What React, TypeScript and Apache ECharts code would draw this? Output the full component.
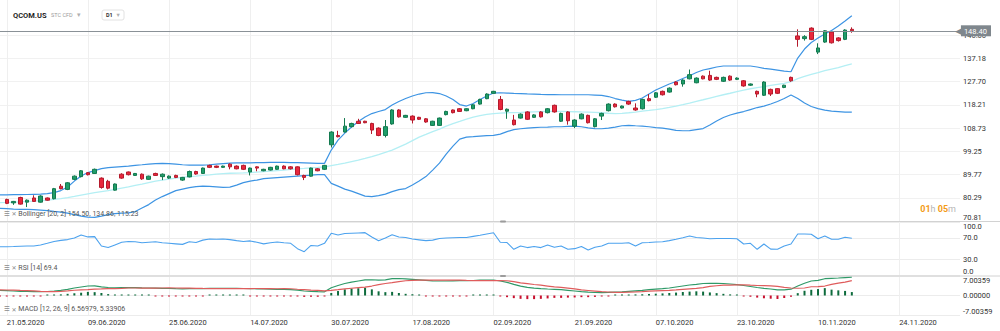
import React, { useEffect, useRef } from 'react';
import * as echarts from 'echarts';

// Trading days (index 0 = 20.05.2020, last bar = 17.11.2020), then empty future slots
const DATES = (
  '20.05 21.05 22.05 26.05 27.05 28.05 29.05 ' +
  '01.06 02.06 03.06 04.06 05.06 08.06 09.06 10.06 11.06 12.06 15.06 16.06 17.06 18.06 19.06 22.06 23.06 24.06 25.06 26.06 29.06 30.06 ' +
  '01.07 02.07 06.07 07.07 08.07 09.07 10.07 13.07 14.07 15.07 16.07 17.07 20.07 21.07 22.07 23.07 24.07 27.07 28.07 29.07 30.07 31.07 ' +
  '03.08 04.08 05.08 06.08 07.08 10.08 11.08 12.08 13.08 14.08 17.08 18.08 19.08 20.08 21.08 24.08 25.08 26.08 27.08 28.08 31.08 ' +
  '01.09 02.09 03.09 04.09 08.09 09.09 10.09 11.09 14.09 15.09 16.09 17.09 18.09 21.09 22.09 23.09 24.09 25.09 28.09 29.09 30.09 ' +
  '01.10 02.10 05.10 06.10 07.10 08.10 09.10 12.10 13.10 14.10 15.10 16.10 19.10 20.10 21.10 22.10 23.10 26.10 27.10 28.10 29.10 30.10 ' +
  '02.11 03.11 04.11 05.11 06.11 09.11 10.11 11.11 12.11 13.11 16.11 17.11'
).split(' ');
const FUTURE_SLOTS = ['f1', 'f2', 'f3', 'f4', 'f5', 'f6', 'f7', 'f8', 'f9', 'f10', 'f11', 'f12', 'f13', 'f14', 'f15', 'f16'];
const CATEGORIES = DATES.concat(FUTURE_SLOTS);

const X_TICK_LABELS = ['21.05.2020', '09.06.2020', '25.06.2020', '14.07.2020', '30.07.2020', '17.08.2020',
  '02.09.2020', '21.09.2020', '07.10.2020', '23.10.2020', '10.11.2020', '24.11.2020'];
const PRICE_TICKS = [70.81, 80.29, 89.77, 99.25, 108.73, 118.21, 127.70, 137.18, 146.66];
const RSI_TICKS = [0, 30, 70, 100];
const MACD_TICKS = [-7.00359, 0, 7.00359];

// [open, close, low, high]
const CANDLES: any[] = ['-',
  [79.6,78.0,77.7,79.9],[78.2,78.8,77.4,79.0],[80.4,77.7,77.5,80.7],[78.5,79.3,76.5,79.6],[80.2,78.8,78.6,81.3],[78.5,81.0,78.3,81.3],[80.2,79.3,79.1,80.4],[79.9,84.0,79.6,84.3],[85.0,84.0,83.7,85.9],[83.7,86.4,83.4,86.7],
  [87.8,89.1,87.5,89.4],[88.9,91.3,88.6,91.6],[90.5,89.7,89.4,90.8],[90.2,91.9,90.0,92.2],[88.3,84.5,84.0,88.6],[87.0,84.2,83.7,87.6],[83.4,85.9,83.2,86.1],[89.9,88.3,88.0,90.3],[90.8,89.7,89.4,91.0],[89.4,90.2,89.2,90.4],
  [89.9,88.0,87.6,90.2],[87.8,89.1,87.6,89.3],[90.2,89.4,89.2,90.5],[88.9,89.9,87.5,90.2],[88.3,89.1,88.0,89.4],[89.4,88.6,88.3,89.7],[87.5,88.6,87.2,88.8],[88.8,91.0,88.6,91.4],[91.0,90.0,89.7,91.3],[90.2,92.4,90.0,92.6],
  [93.5,92.7,92.4,93.8],[93.2,92.7,92.4,93.4],[92.7,93.2,92.5,93.4],[94.0,92.9,91.9,94.3],[93.2,92.1,91.9,93.5],[93.5,91.9,91.6,93.8],[90.8,92.4,89.4,92.6],[92.9,92.4,91.1,93.1],[91.3,91.9,91.1,92.1],[91.6,92.7,91.4,92.9],
  [91.9,93.2,91.7,93.4],[93.2,92.1,91.9,93.5],[92.9,92.1,91.8,93.2],[92.9,89.7,89.4,93.1],[89.4,88.6,87.5,89.7],[89.1,92.4,88.9,92.6],[92.1,91.3,91.1,92.4],[91.9,93.5,91.6,93.7],[101.9,107.1,100.8,107.4],[105.7,105.2,104.9,107.6],
  [107.1,109.5,106.9,112.8],[109.3,110.6,109.0,110.9],[111.5,110.6,110.4,112.5],[111.5,110.9,110.7,111.7],[110.6,107.9,106.3,110.9],[108.7,105.7,105.4,109.0],[105.7,109.3,104.9,112.0],[110.4,116.1,110.1,116.4],[116.1,113.3,113.0,116.4],[113.1,113.9,112.9,114.1],
  [113.6,112.0,110.6,113.9],[113.1,112.3,112.0,113.3],[112.5,111.2,110.9,112.8],[109.8,111.5,109.6,111.7],[109.8,112.8,109.6,113.0],[114.2,115.5,113.9,115.8],[116.1,115.0,114.7,116.3],[116.6,115.5,115.3,116.9],[115.8,116.6,115.6,116.8],[116.6,118.2,116.4,118.5],
  [118.5,120.4,118.3,120.7],[120.7,122.6,120.5,122.9],[122.9,123.7,122.7,123.9],[120.4,116.3,116.0,121.8],[115.6,116.4,112.5,116.7],[112.0,110.1,109.8,114.1],[112.8,114.4,112.6,114.7],[115.3,112.3,112.0,115.6],[113.1,114.1,112.9,114.4],[115.3,113.3,113.0,115.6],
  [115.0,116.6,114.7,116.9],[118.0,115.3,115.0,118.3],[111.5,114.7,111.2,115.0],[115.3,111.7,110.1,115.6],[109.5,112.0,108.7,112.3],[112.5,114.4,112.3,114.7],[113.9,110.9,110.6,114.2],[109.3,112.5,109.0,112.8],[113.6,114.7,112.0,115.0],[115.8,118.5,115.5,118.8],
  [118.5,117.4,117.1,118.8],[116.9,117.7,116.7,117.9],[119.6,118.5,118.2,119.9],[116.9,116.1,115.8,118.8],[116.6,120.4,116.3,120.7],[120.7,119.9,119.6,122.6],[121.3,123.1,121.0,123.4],[123.7,122.3,122.0,124.0],[123.4,125.0,123.2,125.3],[127.5,126.4,126.1,127.8],
  [126.7,128.3,125.6,128.6],[128.8,130.5,128.6,132.6],[127.2,129.1,127.0,129.4],[129.9,128.8,128.6,130.2],[130.2,128.3,128.0,132.1],[129.4,128.6,128.3,129.7],[127.8,129.4,127.5,129.7],[129.9,128.3,128.0,130.2],[128.6,129.1,128.3,129.4],[128.0,125.9,125.6,128.3],
  [126.2,126.7,125.9,126.9],[123.7,122.6,121.3,124.0],[122.1,127.5,121.8,127.8],[124.5,122.6,121.8,124.8],[124.8,122.9,122.6,125.0],[125.3,126.2,125.0,126.4],[129.4,128.0,127.6,129.7],[146.3,144.9,141.9,149.0],[145.2,146.0,144.4,146.6],[149.5,144.9,144.6,149.8],
  [139.7,141.4,138.9,143.3],[143.8,148.4,143.5,148.7],[147.9,143.5,143.2,148.2],[145.5,144.4,144.0,145.8],[144.9,148.7,144.6,149.0],[149.0,148.4,147.6,149.8]
];

const BB_UPPER = [81.46,
  81.50,81.54,81.58,81.62,81.71,81.79,81.95,82.40,83.22,84.65,
  87.09,89.13,90.56,91.38,92.20,92.60,92.81,93.01,93.21,93.50,
  93.75,94.03,94.24,94.32,94.24,94.03,93.75,93.63,93.63,93.63,
  93.75,94.03,94.24,94.44,94.56,94.56,94.56,94.64,94.64,94.72,
  94.72,94.72,94.64,94.64,94.56,94.44,94.32,94.32,99.75,103.83,
  106.68,109.13,111.38,113.21,114.64,115.46,116.27,118.11,119.54,120.76,
  121.78,122.60,123.13,123.21,122.80,121.78,120.35,118.31,117.70,118.72,
  120.35,121.78,123.01,123.13,123.01,122.88,122.80,122.68,122.60,122.48,
  122.39,122.39,122.31,122.31,122.31,122.31,122.31,122.19,122.07,121.58,
  120.76,120.15,119.62,120.03,120.97,122.60,124.23,125.46,126.68,127.70,
  128.92,130.07,131.37,132.39,133.00,133.62,134.03,134.03,134.03,134.03,
  134.03,133.62,133.09,132.80,132.39,131.98,131.70,137.29,140.96,143.62,
  145.45,147.09,148.51,150.35,152.39,154.50];
const BB_MIDDLE = [78.32,
  78.40,78.52,78.65,78.81,78.93,79.14,79.34,79.63,79.95,80.36,
  80.85,81.38,81.91,82.40,82.81,83.22,83.71,84.24,84.77,85.34,
  85.87,86.48,87.09,87.50,87.91,88.32,88.60,88.93,89.13,89.42,
  89.66,89.95,90.15,90.28,90.36,90.44,90.56,90.77,90.97,91.17,
  91.38,91.58,91.87,92.11,92.28,92.48,92.68,92.89,93.42,93.91,
  94.44,95.05,95.66,96.36,97.09,97.91,98.81,99.75,100.97,102.19,
  103.62,105.05,106.15,107.29,108.32,109.54,110.56,111.46,112.40,113.21,
  113.82,114.31,114.64,114.84,114.97,115.05,115.13,115.25,115.34,115.42,
  115.50,115.54,115.54,115.46,115.38,115.29,115.25,115.13,114.97,114.76,
  114.64,114.72,114.97,115.25,115.66,115.95,116.27,116.68,117.17,117.70,
  118.31,118.93,119.62,120.27,120.97,121.66,122.31,122.92,123.62,124.23,
  124.76,125.25,125.66,126.15,126.56,126.97,127.62,128.92,129.82,130.64,
  131.37,132.19,132.80,133.41,134.23,134.86];
const BB_LOWER = [75.95,
  75.87,75.67,75.59,75.55,75.46,75.26,75.06,74.73,74.44,74.03,
  73.42,72.81,72.40,72.28,72.81,73.42,73.83,74.03,74.16,74.65,
  76.08,77.50,79.34,80.77,81.99,83.22,83.83,84.44,84.85,85.05,
  84.93,84.73,84.52,84.65,85.46,86.48,87.09,87.50,88.11,88.32,
  88.52,88.73,88.93,89.13,89.34,89.54,89.75,89.75,86.16,85.05,
  83.83,83.01,81.99,80.97,80.77,81.18,81.79,82.81,83.63,84.03,
  85.46,87.09,88.93,91.58,94.44,98.11,101.38,104.23,105.05,105.25,
  105.46,105.66,105.74,106.27,107.29,108.11,108.44,108.72,108.93,109.05,
  109.13,109.25,109.25,109.42,109.54,109.25,108.80,108.52,108.44,108.72,
  109.13,109.66,109.83,109.66,109.54,109.25,108.93,108.72,108.32,107.78,
  107.62,107.70,108.11,108.52,109.95,111.58,113.01,114.03,114.84,115.46,
  116.27,117.09,117.70,118.52,119.54,120.76,122.19,120.76,118.93,117.50,
  116.68,116.07,115.66,115.46,115.25,115.23];

const RSI = [53.5,
  53.7,54,54.5,55,55,57,60,63.5,65.5,67,
  70,75.6,72,72.5,55,52,57,62,63.5,63,
  61,62,63,61,60,59,58,63,61.5,66,
  68,67.5,68,67,65,63.5,64.5,62,59,61,
  62.5,61,60,50,44.3,56,55,60,78.8,75.6,
  78.5,79,79.5,80,72,65,70,76,72,71,
  68,66.5,65,66,69,70,70.5,71,71,73,
  75,77.5,79.9,62,61.5,48.8,55,52,54,52,
  56.8,52.5,55,48.8,50,54,47.5,52.5,55,60,
  60,60,61.2,55,61.2,61.5,62.5,63,65,67.5,
  70.5,73.7,71,70,68.5,69,69,69,68.5,58.7,
  60,48.8,58.7,49.2,49,55,58.7,77.5,77.5,77,
  68.7,73.7,67.5,67.5,71.3,69.4];

const MACD = [1.80,
  1.72,1.62,1.51,1.44,1.36,1.36,1.44,1.62,1.87,2.23,
  2.69,3.05,3.41,3.48,3.13,2.87,2.77,2.80,2.84,2.80,
  2.73,2.69,2.66,2.59,2.51,2.44,2.41,2.44,2.44,2.48,
  2.55,2.59,2.59,2.59,2.55,2.51,2.48,2.41,2.33,2.26,
  2.23,2.19,2.12,1.90,1.62,1.47,1.36,1.33,2.80,3.60,
  4.30,4.80,5.20,5.60,5.65,5.50,5.64,6.03,6.11,6.00,
  5.82,5.64,5.46,5.28,5.21,5.21,5.28,5.32,5.32,5.39,
  5.50,5.57,5.57,5.21,4.74,4.02,3.34,2.95,2.66,2.48,
  2.33,2.23,2.12,1.87,1.62,1.36,1.19,1.08,1.04,1.11,
  1.22,1.33,1.51,1.69,1.87,2.08,2.26,2.44,2.69,3.05,
  3.41,3.77,4.02,4.31,4.38,4.38,4.31,4.13,3.92,3.59,
  3.23,2.87,2.59,2.33,2.05,2.05,2.26,3.41,4.38,5.21,
  5.46,6.03,6.18,6.29,6.43,6.56979];
const MACD_SIGNAL = [2.0,
  1.97,1.92,1.81,1.74,1.66,1.46,1.39,1.37,1.47,1.63,
  1.89,2.05,2.11,2.28,2.35,2.45,2.50,2.55,2.69,2.70,
  2.68,2.66,2.68,2.69,2.71,2.69,2.66,2.64,2.59,2.53,
  2.50,2.49,2.47,2.47,2.47,2.48,2.50,2.51,2.48,2.46,
  2.43,2.44,2.42,2.25,2.12,1.92,1.81,1.68,1.85,2.10,
  2.40,2.60,2.80,3.00,3.40,3.90,4.30,4.60,5.00,5.30,
  5.45,5.50,5.55,5.50,5.50,5.50,5.50,5.50,5.40,5.35,
  5.35,5.37,5.35,5.35,5.30,5.00,4.55,4.25,3.95,3.70,
  3.40,3.10,2.95,2.65,2.35,2.00,1.80,1.60,1.40,1.25,
  1.10,1.10,1.20,1.30,1.42,1.55,1.65,1.75,1.85,2.00,
  2.20,2.40,2.55,2.85,3.25,3.50,3.70,3.75,3.80,3.85,
  3.70,3.60,3.55,3.45,3.30,2.95,2.70,2.60,2.70,3.15,
  3.20,3.40,4.00,4.45,4.80,5.33906];
const MACD_HIST = [-0.2,
  -0.25,-0.3,-0.3,-0.3,-0.3,-0.1,0.05,0.25,0.4,0.6,
  0.8,1.0,1.3,1.2,0.9,0.5,0.35,0.25,0.15,0.1,
  0.05,0.03,-0.02,-0.1,-0.2,-0.25,-0.25,-0.2,-0.15,-0.05,
  0.05,0.1,0.12,0.12,0.08,0.03,-0.02,-0.1,-0.15,-0.2,
  -0.2,-0.25,-0.3,-0.35,-0.5,-0.45,-0.45,-0.35,0.9,1.6,
  2.2,2.5,2.6,2.8,2.2,1.5,1.2,1.3,0.9,0.6,
  0.45,0.25,-0.1,-0.2,-0.3,-0.3,-0.25,-0.2,-0.05,0.05,
  0.15,0.2,0.25,-0.2,-0.6,-0.95,-1.2,-1.3,-1.3,-1.2,
  -1.05,-0.85,-0.85,-0.75,-0.7,-0.6,-0.6,-0.5,-0.35,-0.15,
  0.15,0.25,0.3,0.4,0.45,0.55,0.65,0.75,0.9,1.05,
  1.25,1.4,1.5,1.4,1.1,0.85,0.6,0.4,0.15,-0.25,
  -0.45,-0.75,-1.0,-1.15,-1.25,-0.9,-0.45,0.84,1.7,2.05,
  2.3,2.65,2.1,1.85,1.65,1.23073];

const FONT = 'Roboto';
const isTickIndex = (index: number) => index >= 1 && (index - 1) % 12 === 0;

function buildOption() {
  const last = CANDLES[CANDLES.length - 1][1];
  const grids = [
    { left: -2, right: 40, top: 0, height: 221 },
    { left: -2, right: 40, top: 222, height: 53.3 },
    { left: -2, right: 40, top: 276, height: 39 },
  ];
  const xAxis = grids.map((_, gi) => ({
    type: 'category',
    gridIndex: gi,
    data: CATEGORIES,
    boundaryGap: false,
    axisLine: { show: false },
    axisTick: { show: false },
    axisLabel: {
      show: gi === 2,
      interval: (index: number) => isTickIndex(index),
      formatter: (_v: string, index: number) => (isTickIndex(index) ? X_TICK_LABELS[(index - 1) / 12] || '' : ''),
      align: 'left',
      margin: 3,
      fontSize: 7.5,
      fontFamily: FONT,
      color: '#333',
    },
    splitLine: { show: true, interval: (index: number) => isTickIndex(index), lineStyle: { color: '#efefef', width: 1 } },
  }));
  const yLabel = { fontSize: 7.5, fontFamily: FONT, color: '#333', margin: 3 };
  const yAxis = [
    {
      type: 'value', gridIndex: 0, position: 'right', min: 70.81, max: 160.96,
      axisLine: { show: false },
      axisTick: { show: false, customValues: PRICE_TICKS },
      axisLabel: { ...yLabel, customValues: PRICE_TICKS, formatter: (v: number) => v.toFixed(2), verticalAlignMinLabel: 'bottom' },
      splitLine: { show: true, lineStyle: { color: '#f1f1f1' } },
    },
    {
      type: 'value', gridIndex: 1, position: 'right', min: 0, max: 100,
      axisLine: { show: false },
      axisTick: { show: false, customValues: RSI_TICKS },
      axisLabel: { ...yLabel, customValues: RSI_TICKS, formatter: (v: number) => v.toFixed(1), verticalAlignMinLabel: 'bottom', verticalAlignMaxLabel: 'top' },
      splitLine: { show: true, lineStyle: { color: '#ececec' } },
    },
    {
      type: 'value', gridIndex: 2, position: 'right', min: MACD_TICKS[0], max: MACD_TICKS[2],
      axisLine: { show: false },
      axisTick: { show: false, customValues: MACD_TICKS },
      axisLabel: { ...yLabel, customValues: MACD_TICKS, formatter: (v: number) => v.toFixed(5), verticalAlignMinLabel: 'bottom', verticalAlignMaxLabel: 'top' },
      splitLine: { show: true, lineStyle: { color: '#ececec' } },
    },
  ];

  const lineBase = { type: 'line', showSymbol: false, symbol: 'none', silent: true, animation: false };
  const legendRich = { i: { fill: '#8a8a8a', fontSize: 6.5, fontFamily: 'DejaVu Sans' }, x: { fill: '#8a8a8a', fontSize: 6, fontFamily: 'DejaVu Sans' } };

  return {
    animation: false,
    backgroundColor: '#ffffff',
    textStyle: { fontFamily: FONT },
    grid: grids,
    xAxis,
    yAxis,
    series: [
      { ...lineBase, name: 'upper', xAxisIndex: 0, yAxisIndex: 0, data: BB_UPPER, lineStyle: { color: '#3d94e3', width: 1.2 }, z: 2 },
      { ...lineBase, name: 'lower', xAxisIndex: 0, yAxisIndex: 0, data: BB_LOWER, lineStyle: { color: '#3d94e3', width: 1.2 }, z: 2 },
      { ...lineBase, name: 'middle', xAxisIndex: 0, yAxisIndex: 0, data: BB_MIDDLE, lineStyle: { color: '#b4eff4', width: 1.3 }, z: 2 },
      {
        type: 'candlestick', name: 'QCOM.US', xAxisIndex: 0, yAxisIndex: 0, data: CANDLES, barWidth: 4, z: 3,
        itemStyle: { color: '#1f9e6a', color0: '#e8283d', borderColor: '#13794f', borderColor0: '#b51a2c', borderWidth: 1 },
        markLine: {
          silent: true, symbol: ['none', 'none'], animation: false,
          lineStyle: { color: '#8a9197', width: 1, type: 'solid' },
          label: {
            position: 'end', distance: -5,
            formatter: '{a|◀}{b|' + last.toFixed(2) + '}',
            rich: {
              a: { color: '#7f878d', fontSize: 9, fontFamily: 'DejaVu Sans', padding: [0, -1, 0, 0] },
              b: { color: '#ffffff', backgroundColor: '#7f878d', fontSize: 7.5, fontFamily: FONT, padding: [2, 4, 1, 3] },
            },
          },
          data: [{ yAxis: last }],
        },
      },
      { ...lineBase, name: 'RSI', xAxisIndex: 1, yAxisIndex: 1, data: RSI, lineStyle: { color: '#4ca2ee', width: 1.1 } },
      {
        type: 'bar', name: 'hist', xAxisIndex: 2, yAxisIndex: 2, data: MACD_HIST, barWidth: 2, barMinHeight: 1, silent: true,
        itemStyle: { color: (p: any) => (p.value >= 0 ? '#0d6b3c' : '#c8102e') },
      },
      { ...lineBase, name: 'MACD', xAxisIndex: 2, yAxisIndex: 2, data: MACD, lineStyle: { color: '#2f9a68', width: 1.2 } },
      { ...lineBase, name: 'Signal', xAxisIndex: 2, yAxisIndex: 2, data: MACD_SIGNAL, lineStyle: { color: '#df5c5c', width: 1.2 } },
    ],
    graphic: [
      { type: 'line', silent: true, z: 5, shape: { x1: 0, y1: 221.5, x2: 1000, y2: 221.5 }, style: { stroke: '#d2d2d2', lineWidth: 1 } },
      { type: 'line', silent: true, z: 5, shape: { x1: 0, y1: 276, x2: 1000, y2: 276 }, style: { stroke: '#d2d2d2', lineWidth: 1 } },
      { type: 'rect', silent: true, z: 6, shape: { x: 500, y: 220.5, width: 6, height: 2, r: 1 }, style: { fill: '#9c9c9c' } },
      { type: 'rect', silent: true, z: 6, shape: { x: 500, y: 275, width: 6, height: 2, r: 1 }, style: { fill: '#9c9c9c' } },
      { type: 'text', silent: true, z: 6, x: 13, y: 15, style: { text: 'QCOM.US', fill: '#1e1e1e', fontSize: 7.5, fontWeight: 'bold', fontFamily: FONT, verticalAlign: 'middle', textVerticalAlign: 'middle' } },
      { type: 'text', silent: true, z: 6, x: 51, y: 15, style: { text: 'STC CFD', fill: '#9a9a9a', fontSize: 5.5, fontFamily: FONT, verticalAlign: 'middle', textVerticalAlign: 'middle' } },
      { type: 'text', silent: true, z: 6, x: 77, y: 14.5, style: { text: '▾', fill: '#b0b0b0', fontSize: 7, fontFamily: 'DejaVu Sans', verticalAlign: 'middle', textVerticalAlign: 'middle' } },
      { type: 'rect', silent: true, z: 6, shape: { x: 102, y: 10, width: 22, height: 10, r: 2 }, style: { fill: '#ffffff', stroke: '#e2e2e2', lineWidth: 1 } },
      { type: 'text', silent: true, z: 7, x: 106, y: 15, style: { text: 'D1', fill: '#333', fontSize: 5.5, fontWeight: 'bold', fontFamily: FONT, verticalAlign: 'middle', textVerticalAlign: 'middle' } },
      { type: 'text', silent: true, z: 7, x: 116.5, y: 14.5, style: { text: '▾', fill: '#b0b0b0', fontSize: 6.5, fontFamily: 'DejaVu Sans', verticalAlign: 'middle', textVerticalAlign: 'middle' } },
      {
        type: 'text', silent: true, z: 6, x: 4, y: 213.5,
        style: { text: '{i|☰} {x|✕} Bollinger [20, 2] 154.50, 134.86, 115.23', fill: '#555', fontSize: 7, fontFamily: FONT, verticalAlign: 'middle', textVerticalAlign: 'middle', rich: legendRich },
      },
      {
        type: 'text', silent: true, z: 6, x: 4, y: 267.8,
        style: { text: '{i|☰} {x|✕} RSI [14] 69.4', fill: '#555', fontSize: 7, fontFamily: FONT, verticalAlign: 'middle', textVerticalAlign: 'middle', rich: legendRich },
      },
      {
        type: 'text', silent: true, z: 6, x: 4, y: 309.3,
        style: { text: '{i|☰} {x|✕} MACD [12, 26, 9] 6.56979, 5.33906', fill: '#555', fontSize: 7, fontFamily: FONT, verticalAlign: 'middle', textVerticalAlign: 'middle', rich: legendRich },
      },
      {
        type: 'text', silent: true, z: 6, x: 956, y: 208.5,
        style: {
          text: '{o|01}{g|h} {o|05}{g|m}', fontSize: 9, fontFamily: FONT, align: 'right', textAlign: 'right',
          verticalAlign: 'middle', textVerticalAlign: 'middle',
          rich: {
            o: { fill: '#f39c19', fontSize: 9, fontWeight: 'bold', fontFamily: FONT },
            g: { fill: '#b5b5b5', fontSize: 9, fontFamily: FONT },
          },
        },
      },
    ],
  };
}

export default function App() {
  const ref = useRef<HTMLDivElement>(null);
  useEffect(() => {
    document.body.style.margin = '0';
    if (!ref.current) return;
    const chart = echarts.init(ref.current, null, { renderer: 'svg' });
    chart.setOption(buildOption() as any);
    return () => chart.dispose();
  }, []);
  return <div ref={ref} style={{ width: 1000, height: 331 }} />;
}
